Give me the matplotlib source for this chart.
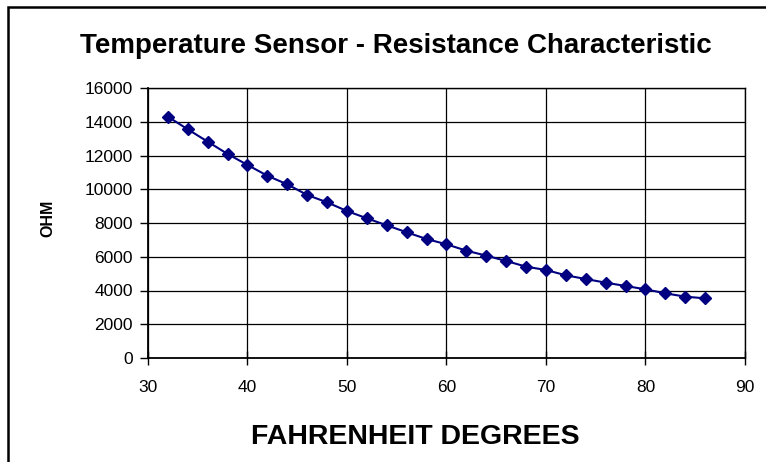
import matplotlib
matplotlib.use("Agg")
import matplotlib.pyplot as plt
from matplotlib.patches import Rectangle

temps_f = [32, 34, 36, 38, 40, 42, 44, 46, 48, 50, 52, 54, 56, 58,
           60, 62, 64, 66, 68, 70, 72, 74, 76, 78, 80, 82, 84, 86]
ohms = [14300, 13550, 12820, 12090, 11440, 10800, 10290, 9660, 9225, 8710,
        8277, 7860, 7450, 7050, 6738, 6360, 6064, 5750, 5412, 5215,
        4900, 4680, 4465, 4267, 4070, 3832, 3635, 3535]
x_ticks = [30, 40, 50, 60, 70, 80, 90]
y_ticks = [0, 2000, 4000, 6000, 8000, 10000, 12000, 14000, 16000]

W, H = 766, 462
plt.rcParams['font.family'] = ['Liberation Sans', 'DejaVu Sans']
fig = plt.figure(figsize=(W / 100, H / 100), dpi=100)

# outer chart border (right and bottom edges fall outside the image)
fig.patches.append(Rectangle((8 / W, -0.1), 1.2, 0.1 + (H - 7) / H, transform=fig.transFigure,
                             fill=False, edgecolor='black', linewidth=1.8, clip_on=False))

ax = fig.add_axes([148 / W, (H - 358) / H, (745 - 148) / W, (358 - 88) / H])
ax.plot(temps_f, ohms, color='#000080', linewidth=1.5, marker='D', markersize=6.5,
        markerfacecolor='#000080', markeredgecolor='#000080')
ax.set_xlim(30, 90)
ax.set_ylim(0, 16000)
ax.set_xticks(x_ticks)
ax.set_yticks(y_ticks)
ax.grid(True, color='black', linewidth=0.9)
ax.set_axisbelow(True)
for s in ax.spines.values():
    s.set_color('black')
    s.set_linewidth(1.0)
ax.spines['left'].set_linewidth(1.3)
ax.spines['bottom'].set_linewidth(1.3)
ax.tick_params(axis='x', direction='inout', length=10, width=1.0, labelsize=12.5, pad=11)
ax.tick_params(axis='y', direction='out', length=6, width=1.0, labelsize=12.5, pad=5)

fig.text(396 / W, 1 - 46 / H, 'Temperature Sensor - Resistance Characteristic',
         ha='center', va='center', fontsize=20, fontweight='bold')
fig.text(415 / W, 1 - 437 / H, 'FAHRENHEIT DEGREES', ha='center', va='center',
         fontsize=20.5, fontweight='bold')
fig.text(48 / W, 1 - 218 / H, 'OHM', ha='center', va='center', rotation=90,
         fontsize=11.5, fontweight='bold')

fig.savefig('out.png', dpi=100)
